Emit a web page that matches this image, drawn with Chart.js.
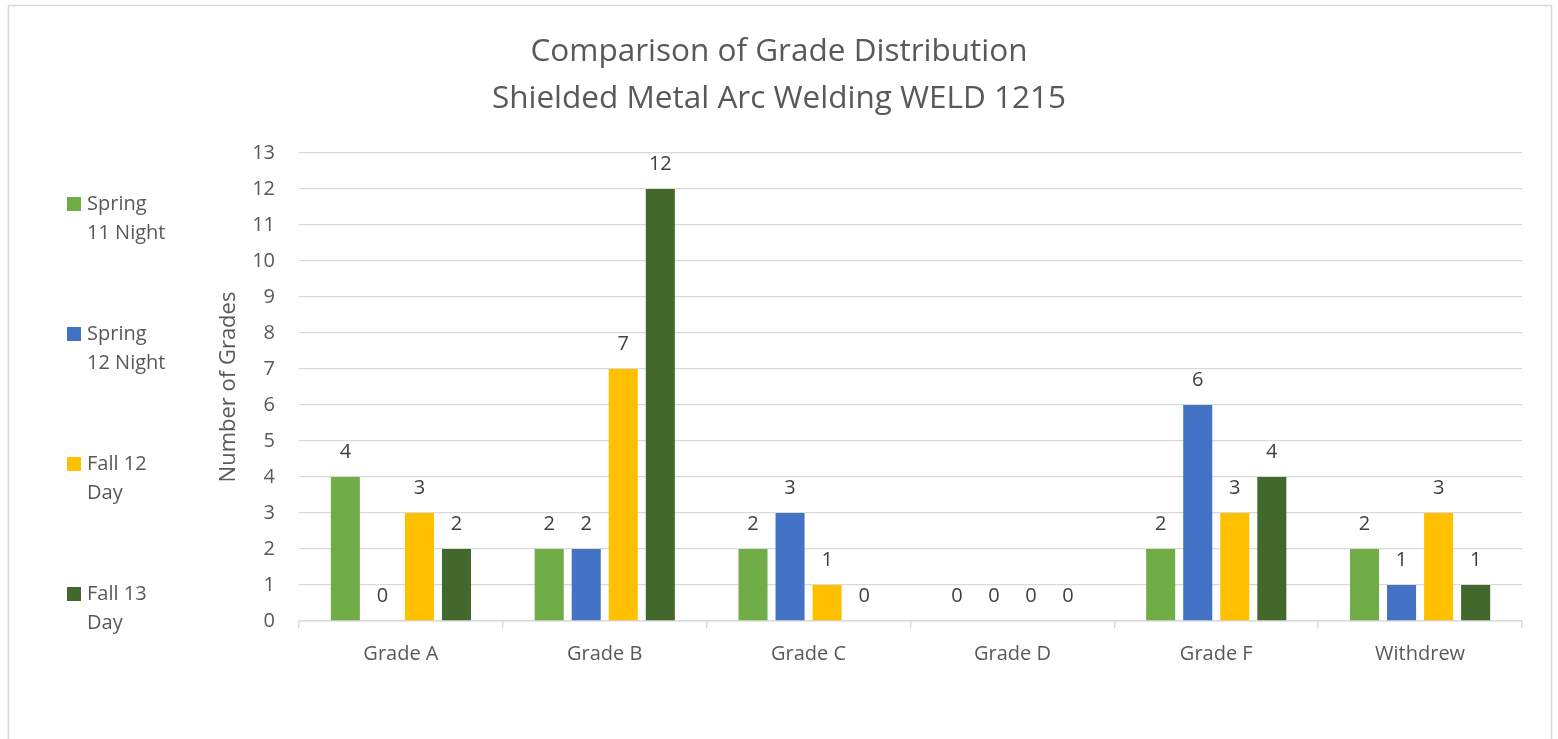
<!DOCTYPE html>
<html lang="en">
<head>
    <meta charset="UTF-8">
    <title>Comparison of Grade Distribution</title>
    <script src="https://cdn.jsdelivr.net/npm/chart.js@4.4.0/dist/chart.umd.min.js"></script>
    <style>
        body {
            margin: 0;
            padding: 0;
            background-color: white;
            font-family: "Open Sans", sans-serif;
        }
        .chart-container {
            position: relative;
            width: 1558px;
            height: 739px;
        }
    </style>
</head>
<body>
    <div class="chart-container">
        <canvas id="gradeChart"></canvas>
    </div>

    <script>
        // Grade categories and counts per class
        const categories = ['Grade A', 'Grade B', 'Grade C', 'Grade D', 'Grade F', 'Withdrew'];
        const seriesNames = ['Spring 11 Night', 'Spring 12 Night', 'Fall 12 Day', 'Fall 13 Day'];
        const spring11Night = [4, 2, 2, 0, 2, 2];
        const spring12Night = [0, 2, 3, 0, 6, 1];
        const fall12Day = [3, 7, 1, 0, 3, 3];
        const fall13Day = [2, 12, 0, 0, 4, 1];
        const yTicks = [0, 1, 2, 3, 4, 5, 6, 7, 8, 9, 10, 11, 12, 13];

        const seriesColors = ['#70AD47', '#4472C4', '#FFC000', '#43682B'];
        const textColor = '#595959';
        const gridColor = '#d9d9d9';

        // White background and the thin frame around the chart
        const framePlugin = {
            id: 'frame',
            beforeDraw(chart) {
                const c = chart.ctx;
                c.save();
                c.fillStyle = 'white';
                c.fillRect(0, 0, chart.width, chart.height);
                c.strokeStyle = gridColor;
                c.lineWidth = 1.5;
                c.strokeRect(8.5, 5.5, 1543, 800);
                c.restore();
            }
        };

        // Value labels above each bar (zeros included)
        const valueLabels = {
            id: 'valueLabels',
            afterDatasetsDraw(chart) {
                const c = chart.ctx;
                c.save();
                c.font = '20px "Open Sans"';
                c.fillStyle = '#404040';
                c.textAlign = 'center';
                c.textBaseline = 'middle';
                chart.data.datasets.forEach((ds, i) => {
                    chart.getDatasetMeta(i).data.forEach((bar, j) => {
                        c.fillText(ds.data[j], bar.x, bar.y - 25);
                    });
                });
                c.restore();
            }
        };

        // Legend on the left, with wrapped labels like the original
        const sideLegend = {
            id: 'sideLegend',
            afterDraw(chart) {
                const c = chart.ctx;
                c.save();
                c.font = '20px "Open Sans"';
                c.textBaseline = 'middle';
                c.textAlign = 'left';
                chart.data.datasets.forEach((ds, i) => {
                    const top = 204 + i * 130;
                    c.fillStyle = ds.backgroundColor;
                    c.fillRect(67, top - 7, 14, 14);
                    // simple word wrap
                    const words = ds.label.split(' ');
                    const lines = [];
                    let line = '';
                    words.forEach(w => {
                        const test = line ? line + ' ' + w : w;
                        if (line && c.measureText(test).width > 80) {
                            lines.push(line);
                            line = w;
                        } else {
                            line = test;
                        }
                    });
                    lines.push(line);
                    c.fillStyle = textColor;
                    lines.forEach((l, k) => c.fillText(l, 87, top + k * 29));
                });
                c.restore();
            }
        };

        const seriesData = [spring11Night, spring12Night, fall12Day, fall13Day];
        const datasets = seriesNames.map((name, i) => ({
            label: name,
            data: seriesData[i],
            backgroundColor: seriesColors[i],
            barPercentage: 0.784,
            categoryPercentage: 0.727
        }));

        const ctx = document.getElementById('gradeChart').getContext('2d');
        new Chart(ctx, {
            type: 'bar',
            data: {
                labels: categories,
                datasets: datasets
            },
            plugins: [framePlugin, valueLabels, sideLegend],
            options: {
                responsive: true,
                maintainAspectRatio: false,
                animation: false,
                layout: {
                    padding: { left: 36, right: 36, top: 0, bottom: 0 }
                },
                plugins: {
                    legend: { display: false },
                    tooltip: { enabled: false },
                    title: {
                        display: true,
                        text: ['Comparison of Grade Distribution', 'Shielded Metal Arc Welding WELD 1215'],
                        color: textColor,
                        font: { family: '"Open Sans"', size: 31.5, weight: 'normal', lineHeight: 47 / 31.5 },
                        padding: { top: 28.5, bottom: 30.5 }
                    }
                },
                scales: {
                    x: {
                        afterFit(scale) { scale.height = 118; },
                        grid: {
                            offset: true,
                            drawOnChartArea: false,
                            drawTicks: true,
                            tickLength: 7,
                            color: gridColor,
                            lineWidth: 1.5
                        },
                        border: { color: gridColor, width: 1.5 },
                        ticks: {
                            color: textColor,
                            font: { family: '"Open Sans"', size: 20 },
                            padding: 14
                        }
                    },
                    y: {
                        min: 0,
                        max: 13,
                        afterFit(scale) { scale.width = 263; },
                        afterBuildTicks(scale) {
                            scale.ticks = yTicks.map(v => ({ value: v }));
                        },
                        grid: {
                            color: gridColor,
                            lineWidth: 1.3,
                            drawTicks: false
                        },
                        border: { display: false },
                        ticks: {
                            color: textColor,
                            font: { family: '"Open Sans"', size: 20 },
                            padding: 24
                        },
                        title: {
                            display: true,
                            text: 'Number of Grades',
                            color: textColor,
                            font: { family: '"Open Sans"', size: 22 },
                            padding: { top: 180, bottom: 0 }
                        }
                    }
                }
            }
        });
    </script>
</body>
</html>
